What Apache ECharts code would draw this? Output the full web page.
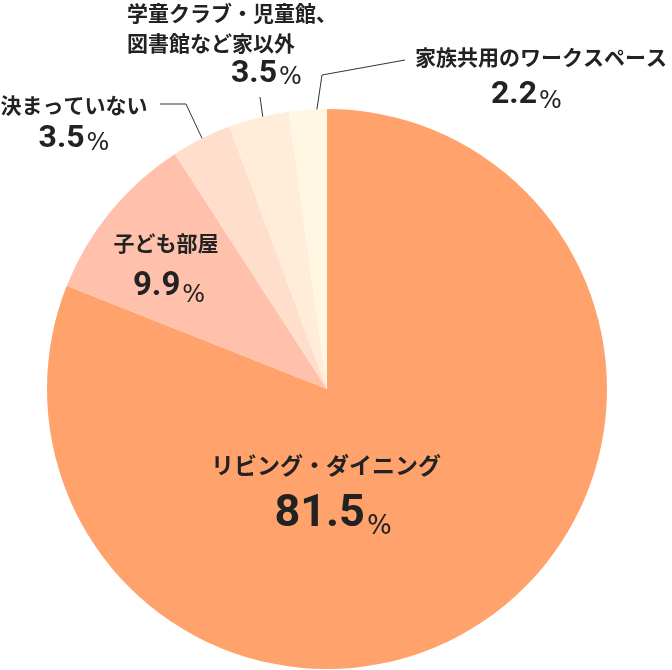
<!DOCTYPE html>
<html><head><meta charset="utf-8">
<script src="https://cdn.jsdelivr.net/npm/echarts@6/dist/echarts.min.js"></script>
<style>html,body{margin:0;padding:0;background:#fff}#c{width:672px;height:670px}</style>
</head><body><div id="c"></div>
<script>
// ---- data ----
const categories = ['リビング・ダイニング', '子ども部屋', '決まっていない', '学童クラブ・児童館、\n図書館など家以外', '家族共用のワークスペース'];
const values = [81.5, 9.9, 3.5, 3.5, 2.2];
const valueLabels = ['81.5', '9.9', '3.5', '3.5', '2.2'];
const unitLabel = '%';

// ---- style ----
const colors = ['#FFA26B', '#FFC1AC', '#FFDFCC', '#FFEDDA', '#FFF7E2'];
const CX = 327, CY = 389, R = 280;
const TEXT = '#222222';
const JP = '"Noto Sans CJK JP", "Noto Sans", sans-serif';
const NUM = 'Roboto, "Noto Sans", sans-serif';
const PCT = '"DejaVu Sans", sans-serif';
const labelCfg = [
  { x: 326, y: 490, align: 'center', nameSize: 23, lh: 50, numSize: 45, pctSize: 26, numPad: 14 },
  { x: 166, y: 265, align: 'center', nameSize: 21, lh: 43, numSize: 33, pctSize: 24, numPad: 6 },
  { x: 74, y: 122, align: 'center', nameSize: 21, lh: 34, numSize: 32, pctSize: 24, line: { r: 0.9, pts: [[186, 104], [160, 104]] } },
  { x: 127, y: 44, align: 'left', nameSize: 21, lh: 30, vlh: 32, numSize: 32, pctSize: 24, numPad: 104, line: { r: 0.857, pts: [[260, 97]] } },
  { x: 415, y: 76, align: 'left', nameSize: 21, lh: 38, numSize: 32, pctSize: 24, numPad: 76, line: { r: 0.85, pts: [[322, 75], [405, 60]] } }
];

const total = values.reduce((a, b) => a + b, 0);
function midPoint(i, frac) {
  let cum = 0;
  for (let k = 0; k < i; k++) cum += values[k];
  const th = 2 * Math.PI * (cum + values[i] / 2) / total;
  return [CX + R * frac * Math.sin(th), CY - R * frac * Math.cos(th)];
}

const data = values.map((v, i) => {
  const c = labelCfg[i];
  const vlh = c.vlh || c.lh;
  const pctH = vlh - 2 * 0.36 * (c.numSize - c.pctSize);
  const nameLines = categories[i].split('\n');
  return {
    name: categories[i],
    value: v,
    itemStyle: { color: colors[i], borderWidth: 0 },
    labelLine: { show: !!c.line, lineStyle: { color: '#333', width: 1 } },
    label: {
      show: true,
      position: c.line ? 'outside' : 'inside',
      overflow: 'none',
      formatter: nameLines.map(l => '{n|' + l + '}').join('\n') + '\n{v|' + valueLabels[i] + '}{p|' + unitLabel + '}',
      rich: {
        n: { fontFamily: JP, fontSize: c.nameSize, fontWeight: 'bold', color: TEXT, lineHeight: c.lh },
        v: { fontFamily: NUM, fontSize: c.numSize, fontWeight: 'bold', color: TEXT, lineHeight: vlh, padding: [0, 0, 0, c.numPad || 0] },
        p: { fontFamily: PCT, fontSize: c.pctSize, fontWeight: 'normal', color: TEXT, lineHeight: pctH, verticalAlign: 'bottom', padding: [0, 0, 0, 2] }
      }
    }
  };
});

const chart = echarts.init(document.getElementById('c'), null, { renderer: 'canvas' });
chart.setOption({
  animation: false,
  series: [{
    type: 'pie',
    center: [CX, CY],
    radius: R,
    startAngle: 90,
    clockwise: true,
    avoidLabelOverlap: false,
    silent: true,
    emphasis: { disabled: true },
    data: data,
    labelLayout: function (p) {
      const c = labelCfg[p.dataIndex];
      const o = { x: c.x, y: c.y, align: c.align, verticalAlign: 'middle' };
      if (c.line) {
        o.labelLinePoints = [midPoint(p.dataIndex, c.line.r)].concat(c.line.pts);
      }
      return o;
    }
  }]
});
</script>
</body></html>
